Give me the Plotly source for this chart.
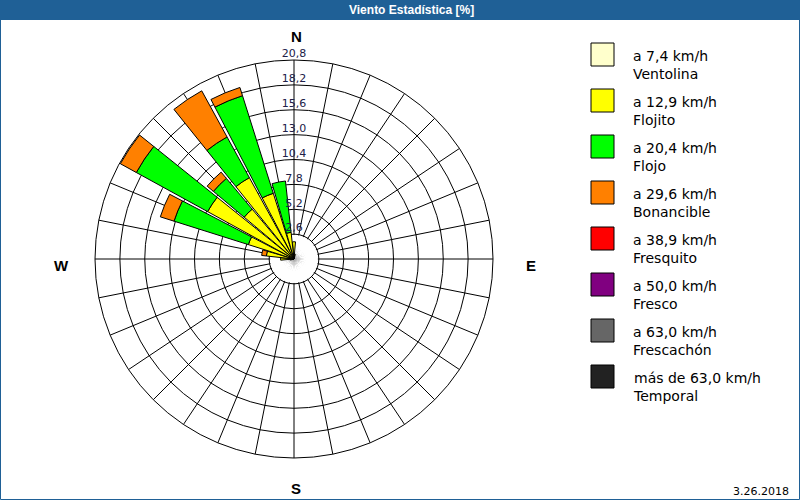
import plotly.graph_objects as go

# ---------------- data ----------------
directions = [i * 11.25 for i in range(32)]  # 0 = N, clockwise

class_ranges = ["a 7,4 km/h", "a 12,9 km/h", "a 20,4 km/h", "a 29,6 km/h",
                "a 38,9 km/h", "a 50,0 km/h", "a 63,0 km/h", "más de 63,0 km/h"]
class_names = ["Ventolina", "Flojito", "Flojo", "Bonancible",
               "Fresquito", "Fresco", "Frescachón", "Temporal"]
class_colors = ["#FFFFCC", "#FFFF00", "#00FF00", "#FF8000",
                "#FF0000", "#800080", "#666666", "#222222"]

ventolina = [0.0] * 32
flojito = [1.8, 0.5, 0, 0, 0, 0, 0, 0, 0, 0, 0, 0, 0, 0, 0, 0,
           0, 0, 0, 0, 0, 0, 0, 0.4, 1.4, 2.9, 5.0, 10.3, 6.8, 9.7, 7.2, 2.8]
flojo = [0, 0, 0, 0, 0, 0, 0, 0, 0, 0, 0, 0, 0, 0, 0, 0,
         0, 0, 0, 0, 0, 0, 0, 0, 0, 0, 8.15, 8.5, 4.2, 4.85, 10.7, 5.4]
bonancible = [0, 0, 0, 0, 0, 0, 0, 0, 0, 0, 0, 0, 0, 0, 0, 0,
              0, 0, 0, 0, 0, 0, 0, 0, 0, 0.5, 1.5, 1.9, 0.85, 5.5, 0.9, 0]
fresquito = [0.0] * 32
fresco = [0.0] * 32
frescachon = [0.0] * 32
temporal = [0.0] * 32

series = [ventolina, flojito, flojo, bonancible, fresquito, fresco, frescachon, temporal]

radial_ticks = [2.6, 5.2, 7.8, 10.4, 13.0, 15.6, 18.2, 20.8]
title_text = "Viento Estadística [%]"
date_text = "3.26.2018"

# ---------------- layout helpers ----------------
W, H = 800, 500
def px(x):
    return x / W
def py(y):
    return 1 - y / H

cx, cy, R = 294, 259, 199
FONT = "DejaVu Sans, Verdana, sans-serif"

fig = go.Figure()

# white disc hiding the spokes inside the first ring
fig.add_trace(go.Barpolar(
    r=[radial_ticks[0] * 0.96] * 32, theta=directions, base=[0] * 32,
    width=[11.25] * 32, marker=dict(color="white", line=dict(width=0)),
    showlegend=False, hoverinfo="skip"))

# stacked segments, drawn with explicit base
cum = [0.0] * 32
for vals, color, name in zip(series, class_colors, class_names):
    th, rr, bb = [], [], []
    for i, v in enumerate(vals):
        if v > 0:
            th.append(directions[i]); rr.append(v); bb.append(cum[i])
            cum[i] += v
    if th:
        fig.add_trace(go.Barpolar(
            r=rr, theta=th, base=bb, width=[10] * len(th), name=name,
            marker=dict(color=color, line=dict(color="black", width=1)),
            showlegend=False))

# radial tick labels along the N spoke
fig.add_trace(go.Scatterpolar(
    r=radial_ticks, theta=[0] * len(radial_ticks), mode="text",
    text=[f"{v:.1f}".replace(".", ",") for v in radial_ticks],
    textposition="top center", cliponaxis=False,
    textfont=dict(family=FONT, size=11, color="#202048"),
    showlegend=False, hoverinfo="skip"))

fig.update_layout(
    width=W, height=H, autosize=False,
    margin=dict(l=0, r=0, t=0, b=0),
    paper_bgcolor="white", plot_bgcolor="white",
    polar=dict(
        domain=dict(x=[px(cx - R), px(cx + R)], y=[py(cy + R), py(cy - R)]),
        bgcolor="white", barmode="overlay",
        radialaxis=dict(range=[0, radial_ticks[-1]], tickvals=radial_ticks,
                        showticklabels=False, ticks="", showline=False,
                        gridcolor="black", gridwidth=1),
        angularaxis=dict(rotation=90, direction="clockwise",
                         tickvals=directions, showticklabels=False, ticks="",
                         gridcolor="black", gridwidth=1,
                         linecolor="black", linewidth=1, showline=True),
    ),
    font=dict(family=FONT),
)

shapes = [
    dict(type="rect", xref="paper", yref="paper", x0=0, x1=1, y0=py(20), y1=1,
         fillcolor="#1F6096", line=dict(width=0), layer="above"),
    dict(type="rect", xref="paper", yref="paper", x0=px(0.5), x1=px(799.5),
         y0=py(499.5), y1=py(0.5), line=dict(color="#1F6096", width=1)),
]
annotations = [
    dict(text=f"<b>{title_text}</b>", x=px(411), y=py(10), xref="paper", yref="paper",
         showarrow=False, xanchor="center", yanchor="middle",
         font=dict(family="Liberation Sans, Arial", size=12, color="white")),
    dict(text=date_text, x=px(791), y=py(491), xref="paper", yref="paper",
         showarrow=False, xanchor="right", yanchor="middle",
         font=dict(family=FONT, size=11, color="black")),
]
# compass letters
for letter, (lx, ly) in zip(["N", "E", "S", "W"],
                            [(296, 37), (531, 265), (296, 488), (61, 265)]):
    annotations.append(dict(text=f"<b>{letter}</b>", x=px(lx), y=py(ly),
                            xref="paper", yref="paper", showarrow=False,
                            xanchor="center", yanchor="middle",
                            font=dict(family="Liberation Sans, Arial", size=15, color="black")))

# legend
for i, (rng, nm, col) in enumerate(zip(class_ranges, class_names, class_colors)):
    top = 43 + 46 * i
    shapes.append(dict(type="rect", xref="paper", yref="paper",
                       x0=px(591), x1=px(614), y0=py(top + 23), y1=py(top),
                       fillcolor=col, line=dict(color="black", width=1)))
    annotations.append(dict(text=f"{rng}<br>{nm}", x=px(631), y=py(top + 22),
                            xref="paper", yref="paper", showarrow=False,
                            xanchor="left", yanchor="middle", align="left",
                            font=dict(family=FONT, size=14, color="black")))

fig.update_layout(shapes=shapes, annotations=annotations)
fig.write_html("out.html")
